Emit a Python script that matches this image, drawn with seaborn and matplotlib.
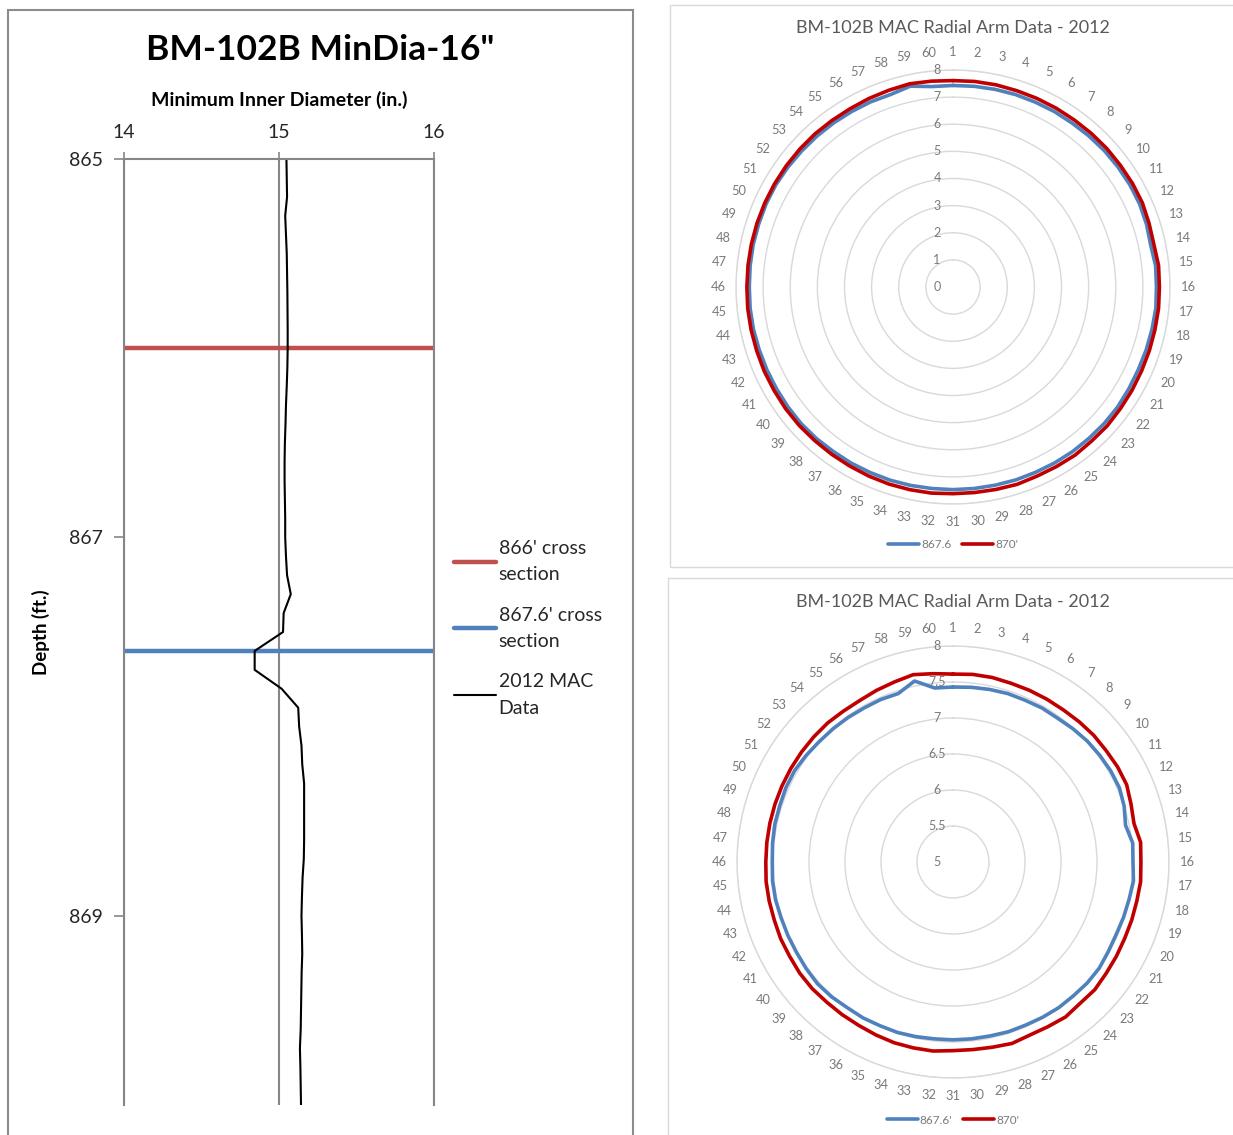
import numpy as np
import matplotlib.pyplot as plt
import seaborn as sns
from matplotlib.patches import Rectangle

# depth log (2012 MAC data)
depth_ft = [865.0, 865.1, 865.2, 865.3, 865.4, 865.5, 865.6, 865.7, 865.8, 865.9,
            866.0, 866.1, 866.2, 866.3, 866.4, 866.5, 866.6, 866.7, 866.8, 866.9,
            867.0, 867.1, 867.2, 867.3, 867.4, 867.5, 867.6, 867.7, 867.8, 867.9,
            868.0, 868.1, 868.2, 868.3, 868.4, 868.5, 868.6, 868.7, 868.8, 868.9,
            869.0, 869.1, 869.2, 869.3, 869.4, 869.5, 869.6, 869.7, 869.8, 869.9, 870.0]
min_dia_in = [15.048, 15.050, 15.052, 15.040, 15.045, 15.050, 15.052, 15.054, 15.055, 15.056,
              15.056, 15.054, 15.050, 15.045, 15.042, 15.038, 15.036, 15.036, 15.038, 15.040,
              15.040, 15.045, 15.052, 15.076, 15.030, 15.026, 14.843, 14.843, 15.017, 15.124,
              15.130, 15.145, 15.150, 15.162, 15.162, 15.162, 15.162, 15.160, 15.152, 15.148,
              15.145, 15.148, 15.150, 15.146, 15.144, 15.142, 15.140, 15.135, 15.138, 15.140, 15.142]

section_depths = [866.0, 867.6]
section_labels = ["866' cross\nsection", "867.6' cross\nsection"]
log_label = "2012 MAC\nData"

# radial arm readings (arms 1..60)
arms = list(range(1, 61))
arm_867_6 = [7.43, 7.44, 7.45, 7.46, 7.46, 7.47, 7.47, 7.49, 7.51, 7.52,
             7.53, 7.53, 7.50, 7.45, 7.51, 7.50, 7.52, 7.50, 7.49, 7.48,
             7.49, 7.51, 7.51, 7.50, 7.50, 7.49, 7.48, 7.48, 7.47, 7.47,
             7.47, 7.47, 7.48, 7.49, 7.49, 7.50, 7.50, 7.52, 7.53, 7.52,
             7.51, 7.51, 7.51, 7.52, 7.52, 7.51, 7.52, 7.53, 7.53, 7.54,
             7.54, 7.52, 7.50, 7.49, 7.48, 7.47, 7.47, 7.46, 7.57, 7.43]
arm_870 = [7.61, 7.62, 7.62, 7.61, 7.61, 7.61, 7.61, 7.62, 7.63, 7.63,
           7.64, 7.64, 7.60, 7.57, 7.62, 7.61, 7.62, 7.61, 7.61, 7.61,
           7.62, 7.63, 7.65, 7.64, 7.66, 7.64, 7.63, 7.65, 7.63, 7.62,
           7.62, 7.64, 7.64, 7.64, 7.63, 7.62, 7.62, 7.62, 7.63, 7.63,
           7.62, 7.62, 7.61, 7.61, 7.61, 7.60, 7.60, 7.60, 7.60, 7.60,
           7.60, 7.60, 7.60, 7.60, 7.59, 7.59, 7.61, 7.63, 7.66, 7.63]

sns.set_theme(style='white')
plt.rcParams['font.family'] = ['Lato', 'DejaVu Sans']

W, H = 1233, 1135
fig = plt.figure(figsize=(W / 100, H / 100), dpi=100)

def fx(px):
    return px / W

def fy(py):
    return 1 - py / H

# panel frames
fig.patches.append(Rectangle((fx(8), fy(1140)), fx(625), 1130 / H, transform=fig.transFigure,
                             fill=False, edgecolor='#8c8c8c', linewidth=1.5))
fig.patches.append(Rectangle((fx(670), fy(567)), fx(570), 562 / H, transform=fig.transFigure,
                             fill=False, edgecolor='#d9d9d9', linewidth=1))
fig.patches.append(Rectangle((fx(668), fy(1140)), fx(570), 562 / H, transform=fig.transFigure,
                             fill=False, edgecolor='#d9d9d9', linewidth=1))

# ---- left: depth log
grid_gray = '#868686'
ax = fig.add_axes([fx(124), fy(1105), fx(310), 946 / H])
sec_colors = ['#c0504d', '#4f81bd']
for d, lab, c in zip(section_depths, section_labels, sec_colors):
    ax.axhline(d, color=c, linewidth=3.2, label=lab)
sns.lineplot(x=min_dia_in, y=depth_ft, sort=False, estimator=None, orient='y',
             color='black', linewidth=1.5, label=log_label, ax=ax)
ax.set_xlim(14, 16)
ax.set_ylim(870, 865)
ax.set_xticks([14, 15, 16])
ax.set_yticks([865, 867, 869])
ax.xaxis.tick_top()
ax.xaxis.set_label_position('top')
ax.grid(axis='x', color=grid_gray, linewidth=1.5)
ax.grid(axis='y', visible=False)
for s in ['left', 'right', 'top']:
    ax.spines[s].set_color(grid_gray)
    ax.spines[s].set_linewidth(1.5)
ax.spines['bottom'].set_visible(False)
ax.tick_params(axis='x', top=True, length=5, width=1.2, color=grid_gray, pad=8,
               labelsize=14, labelcolor='#262626')
ax.tick_params(axis='y', left=True, length=7, width=1.2, color=grid_gray, pad=8,
               labelsize=14, labelcolor='#262626')
ax.set_xlabel('Minimum Inner Diameter (in.)', fontsize=14, fontweight='bold', color='black')
ax.xaxis.set_label_coords(0.5, 1 + (159 - 100) / 946)
ax.xaxis.label.set_va('center')
ax.set_ylabel('Depth (ft.)', fontsize=13.5, fontweight='bold', color='black')
ax.yaxis.set_label_coords((50 - 124) / 310, 0.5)
leg = ax.legend(loc='center left', bbox_to_anchor=(1.008, 0.504), frameon=False, fontsize=14,
                handlelength=2.15, handletextpad=0.15, labelspacing=1.2)
for t in leg.get_texts():
    t.set_linespacing(1.67)
fig.text(fx(320), fy(50), 'BM-102B MinDia-16"', fontsize=25.5, fontweight='bold',
         ha='center', va='center', color='black')

# ---- right: radar charts
theta = np.deg2rad((np.array(arms) - 1) * 360 / len(arms))
theta_c = np.append(theta, 2 * np.pi)
lab_gray = '#7a7a7a'


def radar(rect, rmin, rticks, title_y, legend_y, labels):
    pax = fig.add_axes(rect, projection='polar')
    pax.set_theta_zero_location('N')
    pax.set_theta_direction(-1)
    series = [(arm_867_6, '#4f81bd', labels[0]), (arm_870, '#c00000', labels[1])]
    for vals, col, lab in series:
        sns.lineplot(x=theta_c, y=np.append(vals, vals[0]), sort=False, estimator=None,
                     color=col, linewidth=2.6, label=lab, ax=pax)
    pax.set_ylim(rmin, rticks[-1])
    pax.set_yticks(rticks)
    pax.set_yticklabels([])
    pax.set_xticks(theta)
    pax.set_xticklabels([str(a) for a in arms], fontsize=9.3, color=lab_gray)
    pax.tick_params(axis='x', pad=6, length=0)
    pax.xaxis.grid(False)
    pax.yaxis.grid(True, color='#d9d9d9', linewidth=1)
    pax.spines['polar'].set_color('#d9d9d9')
    pax.spines['polar'].set_linewidth(1)
    pax.set_xlabel('')
    pax.set_ylabel('')
    for v in rticks:
        pax.annotate(f'{v:g}', xy=(0, v), xytext=(-11.5, 0), textcoords='offset points',
                     ha='center', va='center', fontsize=9, color=lab_gray, annotation_clip=False)
    pax.legend(loc='center', bbox_to_anchor=(0.5, legend_y), ncol=2, frameon=False,
               fontsize=8.5, handlelength=2.6, handletextpad=0.2, columnspacing=0.9,
               labelcolor=lab_gray)
    fig.text(fx(953), fy(title_y), 'BM-102B MAC Radial Arm Data - 2012', fontsize=13,
             color='#595959', ha='center', va='center')
    return pax


radar([fx(736), fy(504), fx(434), 434 / H], 0, np.arange(0, 9, 1), 28,
      -(545 - 504) / 434, ['867.6', "870'"])
radar([fx(737), fy(1078), fx(432), 432 / H], 5, np.arange(5, 8.01, 0.5), 602,
      -(1120 - 1078) / 432, ["867.6'", "870'"])

fig.savefig('out.png', dpi=100)
